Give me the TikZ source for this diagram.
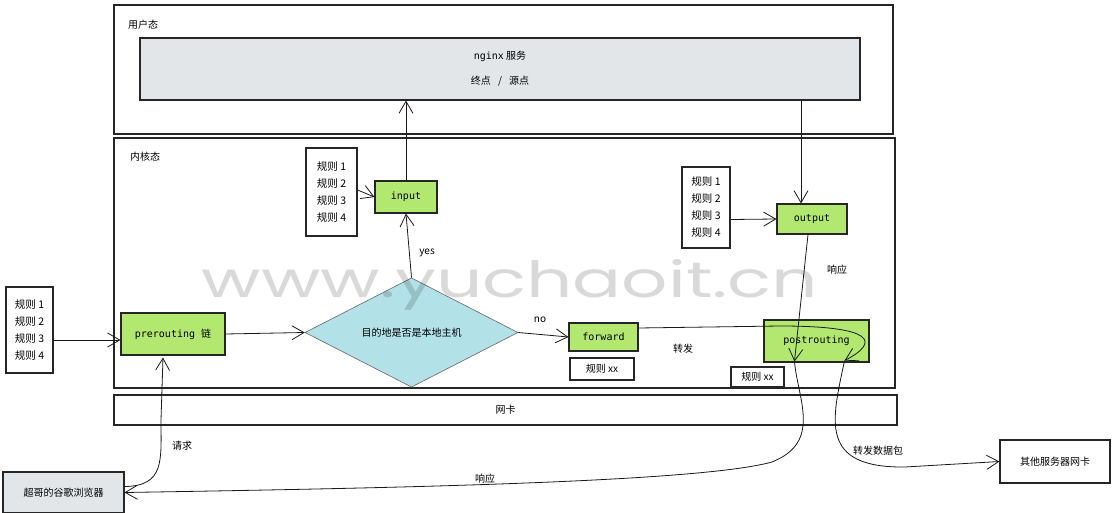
\documentclass[tikz,border=0pt]{standalone}
\usepackage{fontspec}
\setmainfont{Noto Sans CJK SC}
\setmonofont{DejaVu Sans Mono}
\newfontfamily\wmfont{Poppins}
\usetikzlibrary{arrows.meta,shapes.geometric,calc}
\definecolor{grn}{RGB}{178,232,112}
\definecolor{cyn}{RGB}{178,226,232}
\definecolor{gry}{RGB}{226,230,233}
\tikzset{
  box/.style={draw=black!85, line width=1.1pt, inner sep=0pt, font=\fontsize{10}{12}\selectfont},
  chain/.style={box, fill=grn, font=\ttfamily\fontsize{10}{12}\selectfont},
  rules/.style={box, align=left, font=\fontsize{10.5}{17}\selectfont},
  lbl/.style={font=\fontsize{10}{12}\selectfont, inner sep=0pt},
  arr/.style={draw=black!90, line width=0.8pt, -{Straight Barb[length=12pt,width=14pt]}},
}
\begin{document}
\begin{tikzpicture}[x=1pt,y=-1pt]
\useasboundingbox (0,0) rectangle (1114,513);
% containers
\node[box, minimum width=779pt, minimum height=129pt] (user) at (503.5,69.5) {};
\node[lbl, anchor=west] (userl) at (128,25) {用户态};
\node[box, fill=gry, minimum width=720pt, minimum height=62pt, align=center,
      font=\fontsize{10}{25}\selectfont] (nginx) at (500,69) {\texttt{nginx} 服务\\终点\enspace\ /\enspace\ 源点};
\node[box, minimum width=781pt, minimum height=250pt] (kernel) at (504.5,263) {};
\node[lbl, anchor=west] (kernl) at (130,157) {内核态};
\node[box, minimum width=783pt, minimum height=30pt] (nic) at (505.5,410) {网卡};
% rules
\node[rules, minimum width=47pt, minimum height=86pt] (rulesL) at (29.5,330) {规则 1\\规则 2\\规则 3\\规则 4};
\node[rules, minimum width=51pt, minimum height=88pt] (rulesI) at (331.5,192) {规则 1\\规则 2\\规则 3\\规则 4};
\node[rules, minimum width=48pt, minimum height=81pt] (rulesO) at (706,207.5) {规则 1\\规则 2\\规则 3\\规则 4};
% chains
\node[chain, minimum width=104pt, minimum height=42pt] (pre) at (173,334) {prerouting {\rmfamily 链}};
\node[chain, minimum width=62pt, minimum height=32pt] (input) at (406,197) {input};
\node[chain, minimum width=70pt, minimum height=30pt] (output) at (812,219) {output};
\node[chain, minimum width=69pt, minimum height=28pt] (forward) at (603.5,337) {forward};
\node[chain, minimum width=105pt, minimum height=42pt] (post) at (816.5,341) {postrouting};
\node[box, minimum width=64pt, minimum height=22pt] (rfwd) at (602,369) {规则 \textit{xx}};
\node[box, minimum width=53pt, minimum height=20pt] (rpost) at (757.5,377) {规则 \textit{xx}};
\node[draw=black!60, line width=0.6pt, fill=cyn, diamond, minimum width=213pt, minimum height=87pt,
      inner sep=0pt, font=\fontsize{10}{12}\selectfont] (dia) at (411.5,332.5) {目的地是否是本地主机};
% endpoints
\node[box, fill=gry, minimum width=121pt, minimum height=41pt] (browser) at (63.5,492.5) {超哥的谷歌浏览器};
\node[box, minimum width=110pt, minimum height=43pt] (other) at (1055,461.5) {其他服务器网卡};
% labels
\node[lbl] (yes) at (427,253) {yes};
\node[lbl] (no) at (540,320) {no};
\node[lbl] (zf) at (683,349) {转发};
\node[lbl] (xy1) at (837,270) {响应};
\node[lbl] (qq) at (182,446) {请求};
\node[lbl] (zfsj) at (878,451) {转发数据包};
\node[lbl] (xy2) at (485,479) {响应};
% helper coordinates
\coordinate (nin) at (input.north |- nginx.south);
\coordinate (oin) at ($(output.north)+(-11,0)$);
\coordinate (pa) at ($(post.south west)+(31,-1)$);
\coordinate (pb) at ($(post.south east)+(-25,-2)$);
\coordinate (pin) at ($(pre.south)+(-10,2)$);
% connectors
\draw[arr] ($(rulesL.east)+(0,10)$) -- ($(pre.west)+(0,6)$);
\draw[arr] (pre.east) -- (dia.west);
\draw[arr] (dia.north) -- (input.south);
\draw[arr] (input.north) -- (nin);
\draw[arr] ($(rulesI.east)+(0,-2)$) -- (input.west);
\draw[arr] (nginx.south -| oin) -- (oin);
\draw[arr] ($(rulesO.east)+(0,12)$) -- (output.west);
\draw[arr] (dia.east) -- (forward.west);
\draw[arr] ($(forward.east)+(0,-9)$) -- (780,326) .. controls (875,326) and (880,342) .. (pb);
\draw[arr] ($(output.south)+(-4,0)$) -- (pa);
\draw[arr] (pa) .. controls (798,400) and (822,442) .. (772,462)
           .. controls (700,482) and (400,488) .. (browser.east);
\draw[arr] (pb) .. controls (832,420) and (818,468) .. (905,467) -- (other.west);
\draw[arr] ($(browser.east)+(0,-6)$) .. controls (165,486) and (161,460) .. (161,420) -- (pin);
% watermark (semi-transparent, on top as in the reference)
\node[text=black, text opacity=0.15, font=\wmfont\fontsize{50}{50}\selectfont, inner sep=0pt, anchor=base] (wm) at (510,298) {\scalebox{1.45}[1]{www.yuchaoit.cn}};
\end{tikzpicture}
\end{document}
